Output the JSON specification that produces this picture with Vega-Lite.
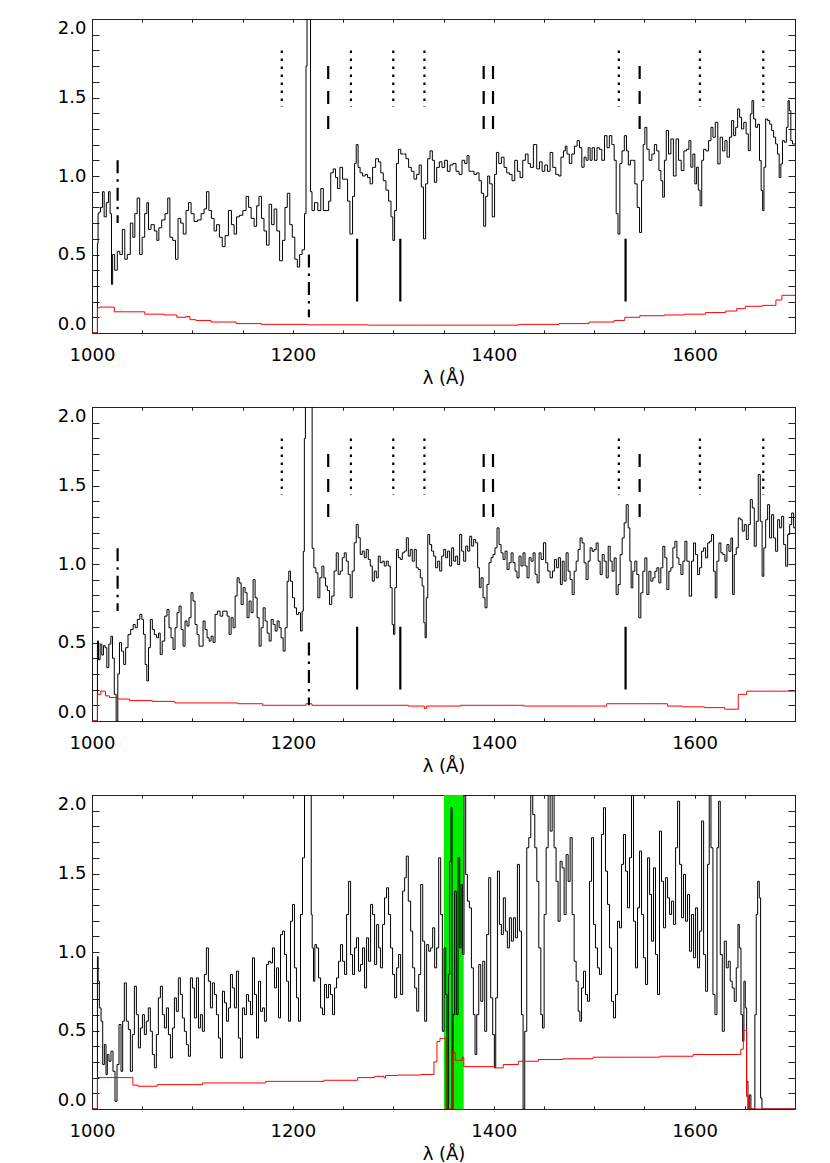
{
"$schema": "https://vega.github.io/schema/vega-lite/v6.json",
"padding": {"left": 57, "top": 18, "right": 5, "bottom": 5},
"background": "white",
"spacing": 19,
"config": {
 "view": {"stroke": null},
 "axis": {"labelFont": "DejaVu Sans", "labelFontSize": 18, "labelColor": "#000", "titleFont": "DejaVu Sans", "titleFontSize": 18, "titleFontWeight": "normal", "titleColor": "#000", "domainColor": "#222", "tickColor": "#222", "domainWidth": 1, "tickWidth": 1, "grid": false, "ticks": true, "labelOverlap": false}
},
"datasets": {
"m": [
 {"w": 1025.5, "lo": 0.7, "hi": 1.1, "s": "dashdot"},
 {"w": 1216, "lo": 0.1, "hi": 0.5, "s": "dashdot"},
 {"w": 1189, "lo": 1.44, "hi": 1.8, "s": "dot"},
 {"w": 1257.8, "lo": 1.44, "hi": 1.8, "s": "dot"},
 {"w": 1300, "lo": 1.44, "hi": 1.8, "s": "dot"},
 {"w": 1331, "lo": 1.44, "hi": 1.8, "s": "dot"},
 {"w": 1524.6, "lo": 1.44, "hi": 1.8, "s": "dot"},
 {"w": 1605.3, "lo": 1.44, "hi": 1.8, "s": "dot"},
 {"w": 1668.4, "lo": 1.44, "hi": 1.8, "s": "dot"},
 {"w": 1235.2, "lo": 1.3, "hi": 1.7, "s": "dash"},
 {"w": 1390, "lo": 1.3, "hi": 1.7, "s": "dash"},
 {"w": 1399.3, "lo": 1.3, "hi": 1.7, "s": "dash"},
 {"w": 1545.3, "lo": 1.3, "hi": 1.7, "s": "dash"},
 {"w": 1264, "lo": 0.2, "hi": 0.6, "s": "solid"},
 {"w": 1307, "lo": 0.2, "hi": 0.6, "s": "solid"},
 {"w": 1531.3, "lo": 0.2, "hi": 0.6, "s": "solid"}
],
"g": [{"a": 1350.5, "b": 1370.1}],
"s1": [
{"w":1000,"f":0},{"w":1005.2,"f":0},{"w":1005.6,"f":0.57},{"w":1006.5,"f":0.76},{"w":1007.3,"f":0.77},{"w":1009.6,"f":0.8},{"w":1011.3,"f":0.9},{"w":1012.9,"f":0.74},{"w":1015.6,"f":0.83},{"w":1017.2,"f":0.9},{"w":1018.9,"f":0.76},{"w":1019.9,"f":0.31},{"w":1021.2,"f":0.5},{"w":1023.9,"f":0.4},{"w":1026.5,"f":0.52},{"w":1028.9,"f":0.5},{"w":1031.5,"f":0.66},{"w":1033.8,"f":0.47},{"w":1036.5,"f":0.5},{"w":1039.8,"f":0.7},{"w":1041.5,"f":0.61},{"w":1043.8,"f":0.76},{"w":1046.1,"f":0.86},{"w":1048.8,"f":0.5},{"w":1051.1,"f":0.61},{"w":1053.8,"f":0.76},{"w":1055.4,"f":0.83},{"w":1057.1,"f":0.66},{"w":1060.4,"f":0.69},{"w":1063.7,"f":0.65},{"w":1065.4,"f":0.59},{"w":1067.7,"f":0.67},{"w":1071,"f":0.72},{"w":1074.4,"f":0.76},{"w":1076.4,"f":0.86},{"w":1078.7,"f":0.61},{"w":1082,"f":0.59},{"w":1084.3,"f":0.47},{"w":1087,"f":0.73},{"w":1089.7,"f":0.7},{"w":1092,"f":0.63},{"w":1095.3,"f":0.78},{"w":1097,"f":0.83},{"w":1100.3,"f":0.76},{"w":1103,"f":0.71},{"w":1107,"f":0.72},{"w":1110.3,"f":0.76},{"w":1112.9,"f":0.79},{"w":1115.2,"f":0.9},{"w":1117.6,"f":0.78},{"w":1120.2,"f":0.73},{"w":1122.9,"f":0.65},{"w":1125.2,"f":0.69},{"w":1128.5,"f":0.61},{"w":1130.9,"f":0.55},{"w":1134.2,"f":0.62},{"w":1137.5,"f":0.78},{"w":1140.2,"f":0.69},{"w":1142.8,"f":0.63},{"w":1145.1,"f":0.74},{"w":1148.5,"f":0.75},{"w":1151.8,"f":0.78},{"w":1155.1,"f":0.87},{"w":1156.8,"f":0.8},{"w":1160.1,"f":0.73},{"w":1162.8,"f":0.68},{"w":1165.1,"f":0.81},{"w":1167.4,"f":0.87},{"w":1170.1,"f":0.73},{"w":1172.4,"f":0.65},{"w":1175,"f":0.56},{"w":1177.7,"f":0.82},{"w":1180,"f":0.69},{"w":1182.7,"f":0.79},{"w":1185.3,"f":0.65},{"w":1188.3,"f":0.46},{"w":1191,"f":0.59},{"w":1193.3,"f":0.8},{"w":1195.6,"f":0.89},{"w":1198.3,"f":0.69},{"w":1200.6,"f":0.61},{"w":1203.3,"f":0.47},{"w":1205.6,"f":0.42},{"w":1207.9,"f":0.5},{"w":1210.6,"f":0.53},{"w":1212.6,"f":0.76},{"w":1213.6,"f":1.7},{"w":1214.6,"f":2.6},{"w":1217,"f":2.6},{"w":1218.2,"f":0.9},{"w":1219.9,"f":0.78},{"w":1223.2,"f":0.83},{"w":1226.5,"f":0.78},{"w":1229.2,"f":0.92},{"w":1231.5,"f":0.78},{"w":1234.8,"f":0.78},{"w":1236.5,"f":0.84},{"w":1238.9,"f":1.02},{"w":1241.5,"f":1.045},{"w":1243.5,"f":0.99},{"w":1245.5,"f":0.92},{"w":1248.2,"f":1.055},{"w":1250.8,"f":0.98},{"w":1253.5,"f":0.98},{"w":1255.5,"f":0.84},{"w":1258.1,"f":0.63},{"w":1260.8,"f":0.87},{"w":1262.1,"f":1.08},{"w":1264.1,"f":1.2},{"w":1265.8,"f":1.055},{"w":1268.1,"f":1.02},{"w":1270.8,"f":1},{"w":1273.1,"f":1.01},{"w":1275.7,"f":0.99},{"w":1278.1,"f":0.95},{"w":1280.7,"f":1.055},{"w":1284.1,"f":1.11},{"w":1286.4,"f":1.09},{"w":1288.7,"f":1.02},{"w":1291.4,"f":0.97},{"w":1294,"f":0.91},{"w":1296.7,"f":0.84},{"w":1298.7,"f":0.74},{"w":1300.3,"f":0.59},{"w":1302.3,"f":0.78},{"w":1304,"f":1.08},{"w":1306.3,"f":1.17},{"w":1308.6,"f":1.14},{"w":1311.3,"f":1.14},{"w":1313.9,"f":1.11},{"w":1316.6,"f":1.055},{"w":1319.3,"f":1.03},{"w":1321.9,"f":0.98},{"w":1324.6,"f":1.01},{"w":1326.9,"f":1.07},{"w":1328.9,"f":0.93},{"w":1331.2,"f":0.6},{"w":1333.2,"f":0.95},{"w":1335.2,"f":1.11},{"w":1337.9,"f":1.16},{"w":1339.9,"f":1.1},{"w":1341.9,"f":0.96},{"w":1344.5,"f":1.055},{"w":1347.2,"f":1.09},{"w":1349.8,"f":1.055},{"w":1352.5,"f":1.1},{"w":1355.2,"f":1.03},{"w":1357.8,"f":1.07},{"w":1361.1,"f":1.08},{"w":1363.8,"f":1.03},{"w":1367.1,"f":1.01},{"w":1369.8,"f":1.1},{"w":1372.4,"f":1.08},{"w":1374.4,"f":1.13},{"w":1376.4,"f":1.03},{"w":1379.1,"f":1.03},{"w":1381.7,"f":1.01},{"w":1384.4,"f":1.02},{"w":1386.4,"f":0.97},{"w":1389,"f":0.89},{"w":1391,"f":0.68},{"w":1393,"f":0.87},{"w":1395,"f":1},{"w":1397,"f":0.95},{"w":1400,"f":0.74},{"w":1401.7,"f":1.01},{"w":1403.7,"f":1.15},{"w":1406.3,"f":1.08},{"w":1409,"f":1.12},{"w":1411.6,"f":1.055},{"w":1414.3,"f":1.02},{"w":1416.9,"f":1.01},{"w":1419.6,"f":0.97},{"w":1422.3,"f":1.1},{"w":1424.9,"f":1.03},{"w":1427.6,"f":0.99},{"w":1430.2,"f":1.1},{"w":1432.9,"f":1.14},{"w":1435.5,"f":1.08},{"w":1437.5,"f":1.055},{"w":1441.5,"f":1.2},{"w":1444.2,"f":1.045},{"w":1446.9,"f":1.09},{"w":1449.5,"f":1.03},{"w":1452.2,"f":1.07},{"w":1454.8,"f":1.03},{"w":1457.5,"f":1.15},{"w":1460.1,"f":1.055},{"w":1463.5,"f":1.01},{"w":1465.8,"f":1},{"w":1468.1,"f":1.12},{"w":1470.8,"f":1.16},{"w":1471.8,"f":1.19},{"w":1474.1,"f":1.14},{"w":1476.4,"f":1.08},{"w":1479.1,"f":1.14},{"w":1481.7,"f":1.19},{"w":1484.4,"f":1.225},{"w":1486.4,"f":1.18},{"w":1489,"f":1.056},{"w":1491,"f":1.12},{"w":1493,"f":1.1},{"w":1495,"f":1.18},{"w":1497,"f":1.1},{"w":1499,"f":1.18},{"w":1501.7,"f":1.1},{"w":1504,"f":1.18},{"w":1506.3,"f":1.17},{"w":1509,"f":1.1},{"w":1511.6,"f":1.257},{"w":1514,"f":1.18},{"w":1516.3,"f":1.257},{"w":1518.9,"f":1.2},{"w":1521,"f":1.1},{"w":1522.9,"f":0.76},{"w":1524.6,"f":0.63},{"w":1526.6,"f":1.08},{"w":1528.9,"f":1.16},{"w":1531.2,"f":1.257},{"w":1533.2,"f":1.16},{"w":1534.9,"f":1.07},{"w":1537.2,"f":1.1},{"w":1539.5,"f":1.1},{"w":1541.5,"f":0.95},{"w":1544.2,"f":0.8},{"w":1546.2,"f":0.64},{"w":1548.2,"f":0.97},{"w":1549.5,"f":1.2},{"w":1551.5,"f":1.31},{"w":1553.5,"f":1.17},{"w":1556.1,"f":1.1},{"w":1558.8,"f":1.14},{"w":1561.1,"f":1.2},{"w":1563.5,"f":1.16},{"w":1565.5,"f":1.035},{"w":1567.4,"f":0.97},{"w":1569.1,"f":0.865},{"w":1570.8,"f":1.1},{"w":1572.8,"f":1.29},{"w":1575.4,"f":1.14},{"w":1577.4,"f":1.236},{"w":1580.4,"f":1},{"w":1582.7,"f":1.236},{"w":1585.4,"f":1.1},{"w":1588,"f":1.035},{"w":1590.7,"f":1.16},{"w":1593.4,"f":1.17},{"w":1595.3,"f":1.225},{"w":1597.3,"f":1.056},{"w":1599.3,"f":1.14},{"w":1601.3,"f":0.95},{"w":1602.7,"f":1.056},{"w":1604.7,"f":0.91},{"w":1606.3,"f":0.81},{"w":1608,"f":1.1},{"w":1610,"f":1.17},{"w":1612.6,"f":1.16},{"w":1615.3,"f":1.225},{"w":1617.3,"f":1.31},{"w":1619.3,"f":1.247},{"w":1621.9,"f":1.342},{"w":1624.3,"f":1.077},{"w":1626.6,"f":1.247},{"w":1629.2,"f":1.16},{"w":1631.2,"f":1.225},{"w":1633.5,"f":1.12},{"w":1635.9,"f":1.247},{"w":1637.9,"f":1.353},{"w":1639.9,"f":1.257},{"w":1641.9,"f":1.31},{"w":1643.9,"f":1.427},{"w":1645.8,"f":1.374},{"w":1647.8,"f":1.3},{"w":1650.2,"f":1.342},{"w":1652.5,"f":1.268},{"w":1654.5,"f":1.162},{"w":1656.5,"f":1.395},{"w":1657.8,"f":1.48},{"w":1659.8,"f":1.363},{"w":1661.8,"f":1.31},{"w":1663.8,"f":1.33},{"w":1665.5,"f":1.098},{"w":1667.1,"f":0.908},{"w":1668.4,"f":0.78},{"w":1669.8,"f":1.056},{"w":1671.8,"f":1.363},{"w":1673.8,"f":1.353},{"w":1675.8,"f":1.33},{"w":1677.7,"f":1.29},{"w":1679.7,"f":1.247},{"w":1681.7,"f":1.204},{"w":1683.4,"f":1.14},{"w":1685.1,"f":0.99},{"w":1686.7,"f":1.077},{"w":1688.4,"f":1.225},{"w":1690.4,"f":1.215},{"w":1692.4,"f":1.31},{"w":1693.7,"f":1.48},{"w":1695,"f":1.416},{"w":1696.7,"f":1.225},{"w":1698.3,"f":1.204},{"w":1700.3,"f":1.204}
],
"e1": [
{"w":1000,"f":0},{"w":1005.2,"f":0},{"w":1005.6,"f":0.16},{"w":1010,"f":0.165},{"w":1022,"f":0.165},{"w":1022.5,"f":0.135},{"w":1045,"f":0.135},{"w":1060,"f":0.12},{"w":1084,"f":0.115},{"w":1085,"f":0.1},{"w":1092,"f":0.1},{"w":1095,"f":0.105},{"w":1100,"f":0.085},{"w":1107,"f":0.08},{"w":1130,"f":0.07},{"w":1157,"f":0.06},{"w":1180,"f":0.055},{"w":1250,"f":0.052},{"w":1300,"f":0.05},{"w":1350,"f":0.05},{"w":1400,"f":0.05},{"w":1450,"f":0.055},{"w":1480,"f":0.06},{"w":1510,"f":0.07},{"w":1530,"f":0.08},{"w":1531,"f":0.1},{"w":1560,"f":0.11},{"w":1580,"f":0.115},{"w":1600,"f":0.12},{"w":1622,"f":0.13},{"w":1640,"f":0.14},{"w":1644,"f":0.155},{"w":1657,"f":0.17},{"w":1678,"f":0.176},{"w":1684,"f":0.21},{"w":1690,"f":0.24},{"w":1700,"f":0.24}
],
"s2": [
{"w":1000,"f":0},{"w":1005.2,"f":0},{"w":1005.6,"f":0.51},{"w":1007.3,"f":0.39},{"w":1008.9,"f":0.49},{"w":1010.6,"f":0.42},{"w":1012.2,"f":0.48},{"w":1013.9,"f":0.467},{"w":1015.6,"f":0.34},{"w":1017.9,"f":0.49},{"w":1019.6,"f":0.54},{"w":1021.2,"f":0.4},{"w":1023.2,"f":0.17},{"w":1024.9,"f":0},{"w":1026.5,"f":0.3},{"w":1028.2,"f":0.5},{"w":1030.5,"f":0.445},{"w":1032.5,"f":0.36},{"w":1034.5,"f":0.467},{"w":1037.2,"f":0.55},{"w":1039.8,"f":0.583},{"w":1042.2,"f":0.615},{"w":1043.8,"f":0.594},{"w":1046.5,"f":0.647},{"w":1048.8,"f":0.679},{"w":1050.5,"f":0.647},{"w":1052.1,"f":0.552},{"w":1053.8,"f":0.36},{"w":1055.4,"f":0.255},{"w":1057.1,"f":0.467},{"w":1059.1,"f":0.647},{"w":1061.1,"f":0.583},{"w":1063.1,"f":0.55},{"w":1065.4,"f":0.53},{"w":1067.1,"f":0.56},{"w":1068.7,"f":0.424},{"w":1071.1,"f":0.509},{"w":1073.7,"f":0.668},{"w":1075.7,"f":0.71},{"w":1077.7,"f":0.594},{"w":1079.7,"f":0.53},{"w":1081.7,"f":0.456},{"w":1083.7,"f":0.594},{"w":1085.7,"f":0.69},{"w":1087.7,"f":0.732},{"w":1089.7,"f":0.583},{"w":1091.7,"f":0.477},{"w":1093.6,"f":0.637},{"w":1095.6,"f":0.605},{"w":1097.6,"f":0.658},{"w":1099.6,"f":0.817},{"w":1101.6,"f":0.764},{"w":1103.6,"f":0.615},{"w":1105.6,"f":0.55},{"w":1107.6,"f":0.477},{"w":1109.6,"f":0.477},{"w":1111.6,"f":0.637},{"w":1113.6,"f":0.583},{"w":1115.6,"f":0.53},{"w":1117.6,"f":0.509},{"w":1119.6,"f":0.54},{"w":1121.6,"f":0.5},{"w":1123.5,"f":0.679},{"w":1126.2,"f":0.7},{"w":1128.9,"f":0.668},{"w":1131.5,"f":0.7},{"w":1133.5,"f":0.7},{"w":1135.5,"f":0.668},{"w":1137.5,"f":0.552},{"w":1139.5,"f":0.658},{"w":1141.5,"f":0.594},{"w":1143.5,"f":0.796},{"w":1145.5,"f":0.912},{"w":1147.5,"f":0.88},{"w":1149.5,"f":0.742},{"w":1151.5,"f":0.849},{"w":1153.4,"f":0.817},{"w":1155.4,"f":0.658},{"w":1157.4,"f":0.764},{"w":1159.4,"f":0.69},{"w":1161.4,"f":0.9},{"w":1163.4,"f":0.785},{"w":1165.4,"f":0.658},{"w":1167.4,"f":0.477},{"w":1169.4,"f":0.594},{"w":1171.4,"f":0.721},{"w":1173.4,"f":0.637},{"w":1175.4,"f":0.56},{"w":1177.4,"f":0.509},{"w":1179.4,"f":0.647},{"w":1181.4,"f":0.615},{"w":1183.4,"f":0.573},{"w":1185.3,"f":0.637},{"w":1187.3,"f":0.594},{"w":1189.3,"f":0.53},{"w":1191.3,"f":0.445},{"w":1193.3,"f":0.594},{"w":1195.3,"f":0.89},{"w":1196.6,"f":0.955},{"w":1198.6,"f":0.89},{"w":1200.6,"f":0.785},{"w":1202.6,"f":0.721},{"w":1204.6,"f":0.679},{"w":1206.6,"f":0.69},{"w":1208.6,"f":0.573},{"w":1209.9,"f":0.7},{"w":1210.9,"f":1.08},{"w":1212,"f":1.8},{"w":1213,"f":2.6},{"w":1218.5,"f":2.6},{"w":1219.9,"f":1.1},{"w":1221.9,"f":0.976},{"w":1223.9,"f":0.944},{"w":1225.9,"f":0.785},{"w":1227.9,"f":0.912},{"w":1229.9,"f":0.986},{"w":1231.9,"f":0.912},{"w":1233.2,"f":0.86},{"w":1235.5,"f":0.83},{"w":1237.5,"f":0.743},{"w":1239.9,"f":0.796},{"w":1242.2,"f":0.955},{"w":1244.2,"f":1.071},{"w":1246.2,"f":0.934},{"w":1248.2,"f":0.955},{"w":1250.2,"f":1.04},{"w":1252.2,"f":1.071},{"w":1254.2,"f":1.018},{"w":1256.1,"f":0.934},{"w":1258.1,"f":0.785},{"w":1260.1,"f":0.955},{"w":1262.1,"f":1.135},{"w":1264.1,"f":1.252},{"w":1266.1,"f":1.167},{"w":1268.1,"f":1.061},{"w":1270.1,"f":1.082},{"w":1272.1,"f":1.04},{"w":1274.1,"f":1.093},{"w":1276.1,"f":1.029},{"w":1278.1,"f":0.987},{"w":1280.1,"f":0.891},{"w":1282.1,"f":0.955},{"w":1284.1,"f":0.912},{"w":1286,"f":1.05},{"w":1288,"f":1.008},{"w":1290,"f":1.018},{"w":1292,"f":0.987},{"w":1294,"f":1.018},{"w":1296,"f":0.987},{"w":1298,"f":0.849},{"w":1299.7,"f":0.615},{"w":1300.7,"f":0.552},{"w":1302.3,"f":0.849},{"w":1304,"f":1.093},{"w":1306,"f":1.04},{"w":1308,"f":1.029},{"w":1310,"f":1.071},{"w":1312,"f":1.082},{"w":1314,"f":1.167},{"w":1315.9,"f":1.05},{"w":1317.9,"f":1.093},{"w":1319.9,"f":1.018},{"w":1321.9,"f":1.093},{"w":1323.9,"f":0.976},{"w":1325.9,"f":0.965},{"w":1327.9,"f":0.912},{"w":1329.6,"f":0.86},{"w":1331.2,"f":0.626},{"w":1332.2,"f":0.53},{"w":1333.5,"f":0.785},{"w":1335.2,"f":1.188},{"w":1337.2,"f":1.124},{"w":1339.2,"f":1.082},{"w":1341.2,"f":1.05},{"w":1343.2,"f":0.976},{"w":1345.2,"f":1.018},{"w":1347.2,"f":0.955},{"w":1349.2,"f":1.05},{"w":1351.2,"f":1.093},{"w":1353.1,"f":1.04},{"w":1355.1,"f":1.082},{"w":1357.1,"f":0.987},{"w":1359.1,"f":1.103},{"w":1361.1,"f":1.018},{"w":1363.1,"f":1.05},{"w":1365.1,"f":0.997},{"w":1367.1,"f":1.188},{"w":1369.1,"f":1.082},{"w":1371.1,"f":1.018},{"w":1373.1,"f":1.114},{"w":1375.1,"f":1.082},{"w":1377.1,"f":1.177},{"w":1379,"f":1.114},{"w":1381,"f":1.156},{"w":1383,"f":1.135},{"w":1385,"f":0.976},{"w":1386.4,"f":0.849},{"w":1388.4,"f":0.912},{"w":1390.4,"f":0.785},{"w":1392.3,"f":0.721},{"w":1394.3,"f":0.87},{"w":1396.3,"f":1.008},{"w":1398.3,"f":1.04},{"w":1400.3,"f":1.061},{"w":1402.3,"f":1.103},{"w":1404.3,"f":1.23},{"w":1406.3,"f":1.124},{"w":1408.3,"f":1.071},{"w":1410.3,"f":1.029},{"w":1412.3,"f":1.082},{"w":1414.3,"f":0.965},{"w":1416.3,"f":1.008},{"w":1418.3,"f":1.071},{"w":1420.2,"f":1.008},{"w":1422.2,"f":0.955},{"w":1424.2,"f":0.912},{"w":1426.2,"f":1.05},{"w":1428.2,"f":0.987},{"w":1430.2,"f":1.071},{"w":1432.2,"f":0.987},{"w":1434.2,"f":0.912},{"w":1436.2,"f":1.04},{"w":1438.2,"f":1.018},{"w":1440.2,"f":1.071},{"w":1442.2,"f":0.934},{"w":1444.2,"f":0.88},{"w":1446.2,"f":1.071},{"w":1448.2,"f":1.029},{"w":1450.8,"f":1.135},{"w":1452.8,"f":1.008},{"w":1454.8,"f":0.955},{"w":1457.5,"f":0.912},{"w":1459.5,"f":0.955},{"w":1461.4,"f":1.029},{"w":1463.4,"f":0.976},{"w":1465.4,"f":1.04},{"w":1467.4,"f":0.869},{"w":1469.1,"f":1.018},{"w":1471.1,"f":0.891},{"w":1473.1,"f":1.071},{"w":1475.1,"f":0.954},{"w":1477.1,"f":0.901},{"w":1479.1,"f":0.806},{"w":1481.1,"f":0.954},{"w":1483.1,"f":1.018},{"w":1485,"f":1.092},{"w":1487,"f":1.166},{"w":1489,"f":1.134},{"w":1491,"f":1.007},{"w":1493,"f":0.901},{"w":1495,"f":1.018},{"w":1497,"f":1.103},{"w":1499,"f":1.081},{"w":1501,"f":1.092},{"w":1503,"f":1.134},{"w":1505,"f":1.018},{"w":1507,"f":0.933},{"w":1509,"f":1.06},{"w":1511,"f":1.018},{"w":1513,"f":0.912},{"w":1515,"f":1.113},{"w":1516.9,"f":1.018},{"w":1518.9,"f":0.954},{"w":1520.9,"f":1.039},{"w":1522.9,"f":0.806},{"w":1524.9,"f":0.869},{"w":1526.9,"f":1.06},{"w":1528.9,"f":1.166},{"w":1530.9,"f":1.262},{"w":1532.9,"f":1.378},{"w":1534.9,"f":1.23},{"w":1536.2,"f":1.018},{"w":1537.5,"f":0.848},{"w":1539.5,"f":0.954},{"w":1541.5,"f":1.018},{"w":1543.5,"f":0.933},{"w":1545.5,"f":0.657},{"w":1547.5,"f":0.816},{"w":1549.5,"f":0.954},{"w":1551.5,"f":1.039},{"w":1553.5,"f":0.806},{"w":1555.5,"f":0.954},{"w":1557.5,"f":0.891},{"w":1559.5,"f":0.912},{"w":1561.5,"f":0.954},{"w":1563.4,"f":0.976},{"w":1565.4,"f":0.88},{"w":1567.4,"f":0.976},{"w":1569.4,"f":1.113},{"w":1571.4,"f":1.039},{"w":1573.4,"f":0.838},{"w":1575.4,"f":0.954},{"w":1577.4,"f":0.976},{"w":1579.4,"f":1.103},{"w":1581.4,"f":1.145},{"w":1583.4,"f":1.039},{"w":1585.4,"f":0.997},{"w":1587.4,"f":0.933},{"w":1589.4,"f":1.018},{"w":1591.4,"f":1.145},{"w":1593.3,"f":1.018},{"w":1596,"f":0.795},{"w":1598,"f":1.018},{"w":1600,"f":1.134},{"w":1602,"f":1.06},{"w":1604,"f":0.933},{"w":1606,"f":0.976},{"w":1608,"f":1.081},{"w":1610,"f":1.103},{"w":1612,"f":1.039},{"w":1614,"f":1.134},{"w":1615.9,"f":1.145},{"w":1617.9,"f":1.188},{"w":1619.9,"f":0.954},{"w":1621.3,"f":0.784},{"w":1623.2,"f":1.018},{"w":1625.2,"f":1.134},{"w":1627.2,"f":1.071},{"w":1629.2,"f":1.06},{"w":1631.2,"f":1.018},{"w":1633.2,"f":1.124},{"w":1635.2,"f":1.081},{"w":1637.2,"f":1.166},{"w":1638.5,"f":0.806},{"w":1640.5,"f":1.06},{"w":1642.5,"f":1.103},{"w":1644.5,"f":1.293},{"w":1646.5,"f":1.282},{"w":1648.5,"f":1.209},{"w":1650.5,"f":1.251},{"w":1652.5,"f":1.156},{"w":1654.5,"f":1.251},{"w":1656.5,"f":1.41},{"w":1658.5,"f":1.357},{"w":1660.4,"f":1.113},{"w":1662.4,"f":1.272},{"w":1664.4,"f":1.569},{"w":1666.4,"f":1.272},{"w":1668.1,"f":0.922},{"w":1669.8,"f":1.103},{"w":1671.8,"f":1.282},{"w":1673.7,"f":1.378},{"w":1675.7,"f":1.166},{"w":1677.7,"f":1.314},{"w":1679.7,"f":1.166},{"w":1681.7,"f":1.081},{"w":1683.7,"f":1.282},{"w":1685.7,"f":1.23},{"w":1687.7,"f":1.304},{"w":1689.7,"f":1.124},{"w":1691.7,"f":0.986},{"w":1693.7,"f":1.188},{"w":1695.7,"f":1.251},{"w":1697.7,"f":1.325},{"w":1699.6,"f":1.23},{"w":1700.5,"f":1.23}
],
"e2": [
{"w":1000,"f":0},{"w":1005.2,"f":0},{"w":1005.6,"f":0.17},{"w":1012,"f":0.19},{"w":1015,"f":0.16},{"w":1020,"f":0.15},{"w":1030,"f":0.14},{"w":1045,"f":0.13},{"w":1075,"f":0.125},{"w":1090,"f":0.115},{"w":1130,"f":0.115},{"w":1160,"f":0.11},{"w":1180,"f":0.1},{"w":1210,"f":0.1},{"w":1216,"f":0.11},{"w":1222,"f":0.1},{"w":1300,"f":0.1},{"w":1330,"f":0.095},{"w":1332,"f":0.08},{"w":1334,"f":0.095},{"w":1400,"f":0.1},{"w":1460,"f":0.095},{"w":1500,"f":0.095},{"w":1525,"f":0.11},{"w":1570,"f":0.11},{"w":1576,"f":0.095},{"w":1600,"f":0.09},{"w":1620,"f":0.085},{"w":1640,"f":0.075},{"w":1643,"f":0.075},{"w":1644,"f":0.17},{"w":1660,"f":0.19},{"w":1700,"f":0.19}
],
"s3": [
{"w":1000,"f":0},{"w":1005.2,"f":0},{"w":1005.6,"f":0.97},{"w":1006.6,"f":0.814},{"w":1008,"f":0.644},{"w":1010,"f":0.559},{"w":1011.3,"f":0.283},{"w":1013.3,"f":0.41},{"w":1014.6,"f":0.219},{"w":1015.9,"f":0.347},{"w":1017.9,"f":0.304},{"w":1019.9,"f":0.368},{"w":1021.9,"f":0.24},{"w":1023.9,"f":0.049},{"w":1025.9,"f":0.283},{"w":1027.9,"f":0.538},{"w":1029.9,"f":0.24},{"w":1031.2,"f":0.559},{"w":1033.2,"f":0.803},{"w":1035.2,"f":0.559},{"w":1037.2,"f":0.506},{"w":1039.2,"f":0.24},{"w":1041.2,"f":0.474},{"w":1043.2,"f":0.782},{"w":1045.2,"f":0.601},{"w":1047.2,"f":0.389},{"w":1049.2,"f":0.516},{"w":1051.2,"f":0.601},{"w":1053.1,"f":0.474},{"w":1055.1,"f":0.559},{"w":1057.1,"f":0.644},{"w":1059.1,"f":0.495},{"w":1061.1,"f":0.347},{"w":1063.1,"f":0.262},{"w":1065.1,"f":0.474},{"w":1067.1,"f":0.708},{"w":1069.1,"f":0.782},{"w":1071.1,"f":0.601},{"w":1073.1,"f":0.516},{"w":1075.1,"f":0.644},{"w":1077.1,"f":0.474},{"w":1079.1,"f":0.325},{"w":1081.1,"f":0.516},{"w":1083,"f":0.708},{"w":1085,"f":0.622},{"w":1087,"f":0.835},{"w":1089,"f":0.729},{"w":1091,"f":0.58},{"w":1093,"f":0.495},{"w":1095,"f":0.41},{"w":1097,"f":0.336},{"w":1099,"f":0.835},{"w":1101,"f":0.771},{"w":1103,"f":0.58},{"w":1105,"f":0.835},{"w":1107,"f":0.516},{"w":1108.9,"f":0.601},{"w":1110.9,"f":0.495},{"w":1112.9,"f":0.857},{"w":1114.9,"f":1.026},{"w":1116.9,"f":0.814},{"w":1118.9,"f":0.644},{"w":1120.9,"f":0.803},{"w":1122.9,"f":0.729},{"w":1124.9,"f":0.601},{"w":1126.9,"f":0.452},{"w":1128.9,"f":0.325},{"w":1130.9,"f":0.75},{"w":1132.9,"f":0.676},{"w":1134.9,"f":0.559},{"w":1136.9,"f":0.644},{"w":1138.8,"f":0.857},{"w":1140.8,"f":0.771},{"w":1142.8,"f":0.644},{"w":1144.8,"f":0.878},{"w":1146.8,"f":0.452},{"w":1148.8,"f":0.325},{"w":1150.8,"f":0.644},{"w":1152.8,"f":0.601},{"w":1154.8,"f":0.729},{"w":1156.8,"f":0.686},{"w":1158.8,"f":0.601},{"w":1160.8,"f":0.963},{"w":1162.8,"f":0.729},{"w":1164.8,"f":0.452},{"w":1166.8,"f":0.814},{"w":1168.8,"f":0.622},{"w":1170.7,"f":0.644},{"w":1172.7,"f":0.559},{"w":1174.7,"f":0.92},{"w":1176.7,"f":0.941},{"w":1178.7,"f":0.93},{"w":1180.7,"f":1.026},{"w":1182.7,"f":0.771},{"w":1184.7,"f":0.899},{"w":1186.7,"f":0.58},{"w":1188.7,"f":1.111},{"w":1190.7,"f":1.133},{"w":1192.7,"f":0.984},{"w":1194.7,"f":0.814},{"w":1196.7,"f":0.559},{"w":1198.6,"f":1.196},{"w":1200.6,"f":1.303},{"w":1202.6,"f":0.899},{"w":1204.6,"f":0.708},{"w":1206.6,"f":0.559},{"w":1208.6,"f":1.239},{"w":1210.6,"f":1.6},{"w":1212.6,"f":2.6},{"w":1218,"f":2.6},{"w":1218.6,"f":1.239},{"w":1219.9,"f":1.026},{"w":1221.2,"f":0.814},{"w":1222.6,"f":1.047},{"w":1224.6,"f":1.026},{"w":1226.6,"f":0.835},{"w":1228.6,"f":0.644},{"w":1230.5,"f":0.601},{"w":1232.5,"f":0.793},{"w":1234.5,"f":0.708},{"w":1236.5,"f":0.793},{"w":1238.5,"f":0.729},{"w":1240.5,"f":0.601},{"w":1242.5,"f":0.771},{"w":1244.5,"f":0.835},{"w":1246.5,"f":0.941},{"w":1248.5,"f":1.047},{"w":1250.5,"f":0.941},{"w":1252.5,"f":0.857},{"w":1254.5,"f":1.239},{"w":1256.5,"f":1.45},{"w":1258.5,"f":0.984},{"w":1260.4,"f":0.857},{"w":1262.4,"f":1.026},{"w":1264.4,"f":1.09},{"w":1266.4,"f":0.878},{"w":1268.4,"f":0.92},{"w":1270.4,"f":1.026},{"w":1272.4,"f":0.771},{"w":1274.4,"f":1.09},{"w":1276.4,"f":0.941},{"w":1278.4,"f":1.303},{"w":1280.4,"f":1.239},{"w":1282.4,"f":0.92},{"w":1284.4,"f":1.175},{"w":1286.4,"f":1.026},{"w":1288.3,"f":0.899},{"w":1290.3,"f":1.175},{"w":1292.3,"f":1.345},{"w":1294.3,"f":1.409},{"w":1296.3,"f":1.239},{"w":1298.3,"f":1.026},{"w":1300.3,"f":0.857},{"w":1302.3,"f":0.708},{"w":1304.3,"f":0.899},{"w":1306.3,"f":0.984},{"w":1308.3,"f":0.729},{"w":1310.3,"f":1.388},{"w":1312.3,"f":1.473},{"w":1313.6,"f":1.611},{"w":1316.3,"f":1.324},{"w":1318.3,"f":1.133},{"w":1320.3,"f":0.899},{"w":1322.3,"f":0.771},{"w":1324.3,"f":0.623},{"w":1326.3,"f":0.857},{"w":1328.3,"f":1.43},{"w":1330.3,"f":1.069},{"w":1332.2,"f":0.559},{"w":1334.2,"f":1.047},{"w":1336.2,"f":1.005},{"w":1338.2,"f":1.026},{"w":1340.2,"f":1.154},{"w":1342.2,"f":0.899},{"w":1344.2,"f":1.026},{"w":1346.2,"f":1.6},{"w":1348.2,"f":1.239},{"w":1349.5,"f":0.495},{"w":1351.5,"f":1.026},{"w":1352.8,"f":0.729},{"w":1354.2,"f":0},{"w":1355.5,"f":0.857},{"w":1356.8,"f":1.578},{"w":1358.2,"f":1.919},{"w":1358.8,"f":0},{"w":1360.1,"f":0.601},{"w":1362.1,"f":1.388},{"w":1363.5,"f":0.601},{"w":1365.5,"f":1.6},{"w":1366.8,"f":1.026},{"w":1368.1,"f":1.43},{"w":1369.5,"f":0.984},{"w":1371.4,"f":2.6},{"w":1372.8,"f":1.494},{"w":1374.8,"f":1.324},{"w":1376.8,"f":1.281},{"w":1378.8,"f":0.899},{"w":1380.7,"f":0.601},{"w":1382.1,"f":0.347},{"w":1384.1,"f":0.601},{"w":1386.1,"f":0.92},{"w":1388.1,"f":0.686},{"w":1390.1,"f":0.941},{"w":1392,"f":0.495},{"w":1394,"f":1.111},{"w":1396,"f":1.473},{"w":1398,"f":0.708},{"w":1400,"f":0.474},{"w":1401.3,"f":0.262},{"w":1402.7,"f":0.708},{"w":1404.7,"f":1.515},{"w":1406.7,"f":1.175},{"w":1408.6,"f":1.111},{"w":1410.6,"f":1.345},{"w":1412.6,"f":1.133},{"w":1414.6,"f":1.026},{"w":1416.6,"f":1.218},{"w":1418.6,"f":1.069},{"w":1420.6,"f":1.218},{"w":1422.6,"f":1.09},{"w":1424.6,"f":1.558},{"w":1426.6,"f":1.133},{"w":1428.6,"f":0.601},{"w":1429.9,"f":0},{"w":1431.9,"f":0.495},{"w":1433.9,"f":1.664},{"w":1435.9,"f":1.728},{"w":1437.9,"f":2.6},{"w":1439.9,"f":1.876},{"w":1441.9,"f":1.664},{"w":1443.9,"f":1.45},{"w":1445.9,"f":1.026},{"w":1447.9,"f":0.601},{"w":1449.2,"f":0.516},{"w":1451.2,"f":1.239},{"w":1453.2,"f":1.664},{"w":1455.2,"f":2.6},{"w":1457.2,"f":1.77},{"w":1459.2,"f":2.6},{"w":1461.1,"f":1.664},{"w":1463.1,"f":1.45},{"w":1465.1,"f":1.196},{"w":1467.1,"f":1.578},{"w":1469.1,"f":1.536},{"w":1471.1,"f":1.239},{"w":1473.1,"f":1.621},{"w":1475.1,"f":1.45},{"w":1477.1,"f":1.728},{"w":1479.1,"f":1.239},{"w":1481.1,"f":0.941},{"w":1483.1,"f":0.814},{"w":1485.1,"f":0.623},{"w":1486.4,"f":0.559},{"w":1488.4,"f":0.771},{"w":1490.4,"f":0.878},{"w":1492.4,"f":0.729},{"w":1494.4,"f":0.686},{"w":1496.4,"f":1.45},{"w":1498.4,"f":1.728},{"w":1500.3,"f":1.175},{"w":1502.3,"f":1.026},{"w":1504.3,"f":0.899},{"w":1506.3,"f":0.857},{"w":1508.3,"f":1.749},{"w":1510.3,"f":1.919},{"w":1512.3,"f":1.515},{"w":1514.3,"f":1.303},{"w":1516.3,"f":1.026},{"w":1518.3,"f":0.686},{"w":1520.3,"f":0.58},{"w":1522.3,"f":0.729},{"w":1524.3,"f":1.196},{"w":1526.3,"f":1.154},{"w":1528.2,"f":1.558},{"w":1530.2,"f":1.749},{"w":1532.2,"f":1.515},{"w":1534.2,"f":1.281},{"w":1536.2,"f":1.6},{"w":1538.2,"f":2.6},{"w":1540.2,"f":1.196},{"w":1542.2,"f":0.899},{"w":1544.2,"f":1.281},{"w":1546.2,"f":1.643},{"w":1548.2,"f":1.239},{"w":1550.2,"f":0.963},{"w":1552.2,"f":0.793},{"w":1554.2,"f":1.6},{"w":1556.2,"f":1.366},{"w":1558.1,"f":1.069},{"w":1560.1,"f":1.536},{"w":1562.1,"f":0.984},{"w":1564.1,"f":0.729},{"w":1566.1,"f":1.77},{"w":1568.1,"f":1.45},{"w":1570.1,"f":1.154},{"w":1572.1,"f":1.473},{"w":1574.1,"f":1.345},{"w":1576.1,"f":1.239},{"w":1578.1,"f":1.324},{"w":1580.1,"f":1.175},{"w":1582.1,"f":1.664},{"w":1584.1,"f":1.96},{"w":1586.1,"f":1.558},{"w":1588,"f":1.218},{"w":1590,"f":1.494},{"w":1592,"f":1.196},{"w":1594,"f":1.366},{"w":1596,"f":1.005},{"w":1598,"f":1.239},{"w":1600,"f":0.963},{"w":1602,"f":1.281},{"w":1604,"f":0.899},{"w":1606,"f":1.133},{"w":1608,"f":1.834},{"w":1610,"f":0.984},{"w":1612,"f":0.75},{"w":1613.9,"f":1.558},{"w":1615.3,"f":2.6},{"w":1617.3,"f":1.664},{"w":1619.3,"f":0.729},{"w":1621.3,"f":0.601},{"w":1623.3,"f":1.664},{"w":1624.6,"f":1.96},{"w":1626.6,"f":0.984},{"w":1628.6,"f":0.495},{"w":1630.6,"f":1.069},{"w":1632.6,"f":0.899},{"w":1634.5,"f":0.941},{"w":1636.5,"f":0.814},{"w":1638.5,"f":0.771},{"w":1640.5,"f":0.686},{"w":1642.5,"f":0.899},{"w":1643.9,"f":1.175},{"w":1645.2,"f":1.026},{"w":1647.2,"f":0.601},{"w":1648.5,"f":0.432},{"w":1649.8,"f":0.814},{"w":1651.2,"f":0.644},{"w":1652.5,"f":0.176},{"w":1653.8,"f":0},{"w":1655.1,"f":0.09},{"w":1657.1,"f":0},{"w":1659.1,"f":0},{"w":1661,"f":0.6},{"w":1661.8,"f":1.239},{"w":1663.8,"f":1.45},{"w":1665.1,"f":1.345},{"w":1666.4,"f":0.07},{"w":1667.8,"f":0},{"w":1700,"f":0}
],
"e3": [
{"w":1000,"f":0},{"w":1005.2,"f":0},{"w":1005.6,"f":0.2},{"w":1040,"f":0.2},{"w":1041.5,"f":0.152},{"w":1050,"f":0.145},{"w":1080,"f":0.155},{"w":1140,"f":0.166},{"w":1206,"f":0.176},{"w":1256,"f":0.183},{"w":1273,"f":0.2},{"w":1290,"f":0.208},{"w":1291.5,"f":0.198},{"w":1293,"f":0.213},{"w":1316,"f":0.216},{"w":1339,"f":0.22},{"w":1342,"f":0.3},{"w":1345,"f":0.43},{"w":1348,"f":0.45},{"w":1352,"f":0.45},{"w":1352.8,"f":0},{"w":1359,"f":0},{"w":1359.6,"f":0.37},{"w":1361,"f":0.36},{"w":1362.5,"f":0.31},{"w":1368,"f":0.31},{"w":1369.5,"f":0.33},{"w":1371,"f":0.27},{"w":1400,"f":0.27},{"w":1403,"f":0.262},{"w":1416,"f":0.283},{"w":1433,"f":0.304},{"w":1456,"f":0.315},{"w":1482,"f":0.32},{"w":1516,"f":0.33},{"w":1549,"f":0.33},{"w":1582,"f":0.336},{"w":1615,"f":0.347},{"w":1645,"f":0.347},{"w":1647,"f":0.38},{"w":1650,"f":0.5},{"w":1651.5,"f":0.5},{"w":1652,"f":0.08},{"w":1653.5,"f":0.08},{"w":1654,"f":0},{"w":1700,"f":0}
]
},
"vconcat": [
{
 "width": 703, "height": 314,
 "layer": [
  {"data": {"name": "s1"}, "mark": {"type": "line", "interpolate": "step", "clip": true, "stroke": "#000", "strokeWidth": 1},
   "encoding": {
    "x": {"field": "w", "type": "quantitative", "scale": {"domain": [1000, 1700], "nice": false, "zero": false},
      "axis": {"orient": "bottom", "values": [1000,1050,1100,1150,1200,1250,1300,1350,1400,1450,1500,1550,1600,1650,1700], "format": "d", "labelExpr": "datum.value % 200 === 0 && datum.value < 1700 ? datum.label : ''", "title": "λ (Å)", "tickSize": -3.2, "labelPadding": 16.2, "titlePadding": 5, "labelFlush": false,
        "encode": {"ticks": {"update": {"y2": {"signal": "datum.value % 200 === 0 ? -6.3 : -3.2"}}}}}},
    "y": {"field": "f", "type": "quantitative", "scale": {"domain": [0, 2], "nice": false, "zero": false},
      "axis": {"orient": "left", "values": [0,0.1,0.2,0.3,0.4,0.5,0.6,0.7,0.8,0.9,1,1.1,1.2,1.3,1.4,1.5,1.6,1.7,1.8,1.9,2], "labelExpr": "abs(datum.value*2-round(datum.value*2)) < 0.001 ? format(datum.value, '.1f') : ''", "labelFlush": true, "tickSize": -7, "labelPadding": 13, "title": null,
        "encode": {"ticks": {"update": {"x2": {"signal": "abs(datum.value*2-round(datum.value*2)) < 0.001 ? 14 : 7"}}}, "labels": {"update": {"dy": {"signal": "datum.value == 0 ? 3.4 : (datum.value == 2 ? 0 : 2.5)"}}}}}}
   }},
  {"data": {"name": "e1"}, "mark": {"type": "line", "interpolate": "step", "clip": true, "stroke": "#ff0000", "strokeWidth": 1},
   "encoding": {
    "x": {"field": "w", "type": "quantitative", "scale": {"domain": [1000, 1700], "nice": false, "zero": false},
      "axis": {"orient": "top", "values": [1000,1050,1100,1150,1200,1250,1300,1350,1400,1450,1500,1550,1600,1650,1700], "labels": false, "title": null, "tickSize": -3.2,
        "encode": {"ticks": {"update": {"y2": {"signal": "datum.value % 200 === 0 ? 6.3 : 3.2"}}}}}},
    "y": {"field": "f", "type": "quantitative", "scale": {"domain": [0, 2], "nice": false, "zero": false},
      "axis": {"orient": "right", "values": [0,0.1,0.2,0.3,0.4,0.5,0.6,0.7,0.8,0.9,1,1.1,1.2,1.3,1.4,1.5,1.6,1.7,1.8,1.9,2], "labels": false, "title": null, "tickSize": -7,
        "encode": {"ticks": {"update": {"x2": {"signal": "abs(datum.value*2-round(datum.value*2)) < 0.001 ? -14 : -7"}}}}}}
   }},
  {"data": {"name": "m"}, "mark": {"type": "rule", "stroke": "#000", "strokeWidth": 2.2},
   "encoding": {
    "x": {"field": "w", "type": "quantitative", "scale": {"domain": [1000, 1700], "nice": false, "zero": false}, "axis": null},
    "y": {"field": "hi", "type": "quantitative", "scale": {"domain": [0, 2], "nice": false, "zero": false}, "axis": null},
    "y2": {"field": "lo"},
    "strokeDash": {"field": "s", "type": "nominal", "scale": {"domain": ["dot", "dash", "dashdot", "solid"], "range": [[2.5, 5.5], [13, 12], [13, 6, 2.5, 6], [1, 0]]}, "legend": null}
   }}
 ],
 "resolve": {"axis": {"x": "independent", "y": "independent"}}
},
{
 "width": 703, "height": 314,
 "layer": [
  {"data": {"name": "s2"}, "mark": {"type": "line", "interpolate": "step", "clip": true, "stroke": "#000", "strokeWidth": 1},
   "encoding": {
    "x": {"field": "w", "type": "quantitative", "scale": {"domain": [1000, 1700], "nice": false, "zero": false},
      "axis": {"orient": "bottom", "values": [1000,1050,1100,1150,1200,1250,1300,1350,1400,1450,1500,1550,1600,1650,1700], "format": "d", "labelExpr": "datum.value % 200 === 0 && datum.value < 1700 ? datum.label : ''", "title": "λ (Å)", "tickSize": -3.2, "labelPadding": 16.2, "titlePadding": 5, "labelFlush": false,
        "encode": {"ticks": {"update": {"y2": {"signal": "datum.value % 200 === 0 ? -6.3 : -3.2"}}}}}},
    "y": {"field": "f", "type": "quantitative", "scale": {"domain": [0, 2], "nice": false, "zero": false},
      "axis": {"orient": "left", "values": [0,0.1,0.2,0.3,0.4,0.5,0.6,0.7,0.8,0.9,1,1.1,1.2,1.3,1.4,1.5,1.6,1.7,1.8,1.9,2], "labelExpr": "abs(datum.value*2-round(datum.value*2)) < 0.001 ? format(datum.value, '.1f') : ''", "labelFlush": true, "tickSize": -7, "labelPadding": 13, "title": null,
        "encode": {"ticks": {"update": {"x2": {"signal": "abs(datum.value*2-round(datum.value*2)) < 0.001 ? 14 : 7"}}}, "labels": {"update": {"dy": {"signal": "datum.value == 0 ? 3.4 : (datum.value == 2 ? 0 : 2.5)"}}}}}}
   }},
  {"data": {"name": "e2"}, "mark": {"type": "line", "interpolate": "step", "clip": true, "stroke": "#ff0000", "strokeWidth": 1},
   "encoding": {
    "x": {"field": "w", "type": "quantitative", "scale": {"domain": [1000, 1700], "nice": false, "zero": false},
      "axis": {"orient": "top", "values": [1000,1050,1100,1150,1200,1250,1300,1350,1400,1450,1500,1550,1600,1650,1700], "labels": false, "title": null, "tickSize": -3.2,
        "encode": {"ticks": {"update": {"y2": {"signal": "datum.value % 200 === 0 ? 6.3 : 3.2"}}}}}},
    "y": {"field": "f", "type": "quantitative", "scale": {"domain": [0, 2], "nice": false, "zero": false},
      "axis": {"orient": "right", "values": [0,0.1,0.2,0.3,0.4,0.5,0.6,0.7,0.8,0.9,1,1.1,1.2,1.3,1.4,1.5,1.6,1.7,1.8,1.9,2], "labels": false, "title": null, "tickSize": -7,
        "encode": {"ticks": {"update": {"x2": {"signal": "abs(datum.value*2-round(datum.value*2)) < 0.001 ? -14 : -7"}}}}}}
   }},
  {"data": {"name": "m"}, "mark": {"type": "rule", "stroke": "#000", "strokeWidth": 2.2},
   "encoding": {
    "x": {"field": "w", "type": "quantitative", "scale": {"domain": [1000, 1700], "nice": false, "zero": false}, "axis": null},
    "y": {"field": "hi", "type": "quantitative", "scale": {"domain": [0, 2], "nice": false, "zero": false}, "axis": null},
    "y2": {"field": "lo"},
    "strokeDash": {"field": "s", "type": "nominal", "scale": {"domain": ["dot", "dash", "dashdot", "solid"], "range": [[2.5, 5.5], [13, 12], [13, 6, 2.5, 6], [1, 0]]}, "legend": null}
   }}
 ],
 "resolve": {"axis": {"x": "independent", "y": "independent"}}
},
{
 "width": 703, "height": 314,
 "layer": [
  {"data": {"name": "g"}, "mark": {"type": "rect", "fill": "#00ee00", "stroke": null},
   "encoding": {
    "x": {"field": "a", "type": "quantitative", "scale": {"domain": [1000, 1700], "nice": false, "zero": false}, "axis": null},
    "x2": {"field": "b"}
   }},
  {"data": {"name": "s3"}, "mark": {"type": "line", "interpolate": "step", "clip": true, "stroke": "#000", "strokeWidth": 1},
   "encoding": {
    "x": {"field": "w", "type": "quantitative", "scale": {"domain": [1000, 1700], "nice": false, "zero": false},
      "axis": {"orient": "bottom", "values": [1000,1050,1100,1150,1200,1250,1300,1350,1400,1450,1500,1550,1600,1650,1700], "format": "d", "labelExpr": "datum.value % 200 === 0 && datum.value < 1700 ? datum.label : ''", "title": "λ (Å)", "tickSize": -3.2, "labelPadding": 16.2, "titlePadding": 5, "labelFlush": false,
        "encode": {"ticks": {"update": {"y2": {"signal": "datum.value % 200 === 0 ? -6.3 : -3.2"}}}}}},
    "y": {"field": "f", "type": "quantitative", "scale": {"domain": [0, 2], "nice": false, "zero": false},
      "axis": {"orient": "left", "values": [0,0.1,0.2,0.3,0.4,0.5,0.6,0.7,0.8,0.9,1,1.1,1.2,1.3,1.4,1.5,1.6,1.7,1.8,1.9,2], "labelExpr": "abs(datum.value*2-round(datum.value*2)) < 0.001 ? format(datum.value, '.1f') : ''", "labelFlush": true, "tickSize": -7, "labelPadding": 13, "title": null,
        "encode": {"ticks": {"update": {"x2": {"signal": "abs(datum.value*2-round(datum.value*2)) < 0.001 ? 14 : 7"}}}, "labels": {"update": {"dy": {"signal": "datum.value == 0 ? 3.4 : (datum.value == 2 ? 0 : 2.5)"}}}}}}
   }},
  {"data": {"name": "e3"}, "mark": {"type": "line", "interpolate": "step", "clip": true, "stroke": "#ff0000", "strokeWidth": 1},
   "encoding": {
    "x": {"field": "w", "type": "quantitative", "scale": {"domain": [1000, 1700], "nice": false, "zero": false},
      "axis": {"orient": "top", "values": [1000,1050,1100,1150,1200,1250,1300,1350,1400,1450,1500,1550,1600,1650,1700], "labels": false, "title": null, "tickSize": -3.2,
        "encode": {"ticks": {"update": {"y2": {"signal": "datum.value % 200 === 0 ? 6.3 : 3.2"}}}}}},
    "y": {"field": "f", "type": "quantitative", "scale": {"domain": [0, 2], "nice": false, "zero": false},
      "axis": {"orient": "right", "values": [0,0.1,0.2,0.3,0.4,0.5,0.6,0.7,0.8,0.9,1,1.1,1.2,1.3,1.4,1.5,1.6,1.7,1.8,1.9,2], "labels": false, "title": null, "tickSize": -7,
        "encode": {"ticks": {"update": {"x2": {"signal": "abs(datum.value*2-round(datum.value*2)) < 0.001 ? -14 : -7"}}}}}}
   }}
 ],
 "resolve": {"axis": {"x": "independent", "y": "independent"}}
}
]
}
